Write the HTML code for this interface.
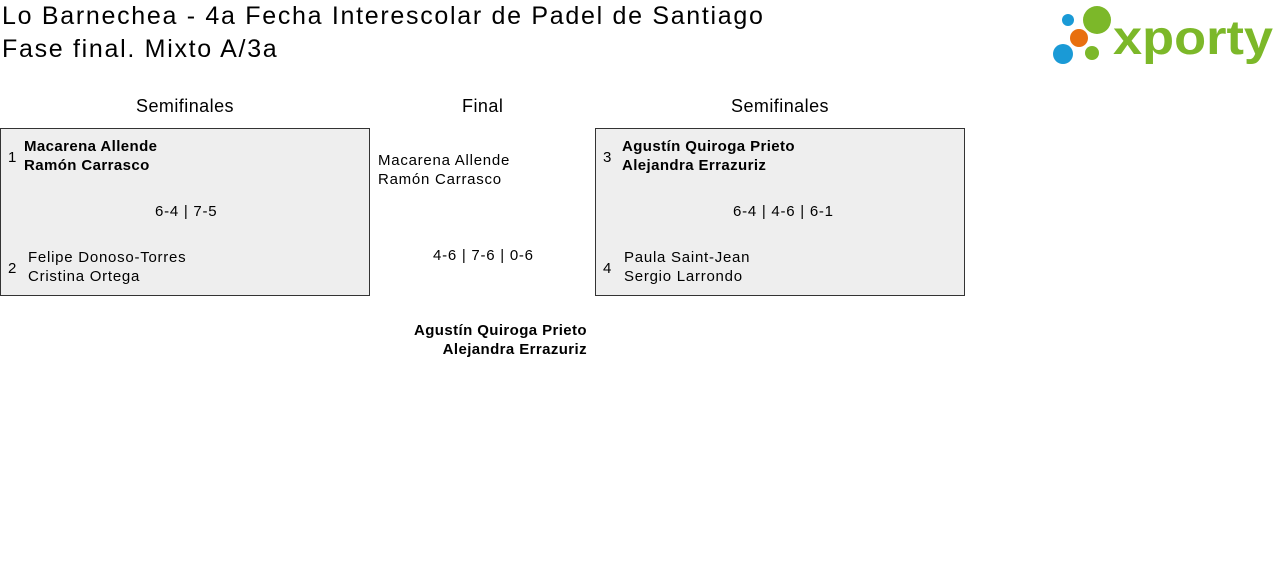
<!DOCTYPE html>
<html><head><meta charset="utf-8"><style>
body{margin:0;width:1280px;height:580px;background:#fff;font-family:"Liberation Sans",sans-serif;color:#000;position:relative;overflow:hidden}
.a{position:absolute;white-space:nowrap}
.t{font-size:25px;left:2px;letter-spacing:1.7px}
.h{font-size:18px;letter-spacing:0.45px}
.box{position:absolute;background:#eee;border:1px solid #333;box-sizing:border-box}
.n{font-size:15px;line-height:19px;letter-spacing:0.75px}
b{font-weight:bold;letter-spacing:0.4px}
</style></head><body>
<div class="a t" style="top:2px">Lo Barnechea - 4a Fecha Interescolar de Padel de Santiago</div>
<div class="a t" style="top:35px">Fase final. Mixto A/3a</div>
<svg class="a" style="left:1050px;top:4px" width="226" height="62">
<circle cx="18" cy="16" r="6" fill="#1a9ad6"/>
<circle cx="47" cy="16" r="14" fill="#7cb829"/>
<circle cx="29" cy="34" r="9" fill="#e8700f"/>
<circle cx="13" cy="50" r="10" fill="#1a9ad6"/>
<circle cx="42" cy="49" r="7" fill="#7cb829"/>
<text x="63" y="50" font-family="Liberation Sans" font-weight="bold" font-size="48" fill="#7cb829" textLength="160" lengthAdjust="spacingAndGlyphs">xporty</text>
</svg>
<div class="a h" style="left:136px;top:96px">Semifinales</div>
<div class="a h" style="left:462px;top:96px">Final</div>
<div class="a h" style="left:731px;top:96px">Semifinales</div>
<div class="box" style="left:0;top:128px;width:370px;height:168px"></div>
<div class="box" style="left:595px;top:128px;width:370px;height:168px"></div>
<div class="a n" style="left:8px;top:148px">1</div>
<div class="a n" style="left:24px;top:137px"><b>Macarena Allende<br>Ramón Carrasco</b></div>
<div class="a n" style="left:155px;top:202px">6-4 | 7-5</div>
<div class="a n" style="left:8px;top:259px">2</div>
<div class="a n" style="left:28px;top:248px">Felipe Donoso-Torres<br>Cristina Ortega</div>
<div class="a n" style="left:603px;top:148px">3</div>
<div class="a n" style="left:622px;top:137px"><b>Agustín Quiroga Prieto<br>Alejandra Errazuriz</b></div>
<div class="a n" style="left:733px;top:202px">6-4 | 4-6 | 6-1</div>
<div class="a n" style="left:603px;top:259px">4</div>
<div class="a n" style="left:624px;top:248px">Paula Saint-Jean<br>Sergio Larrondo</div>
<div class="a n" style="left:378px;top:151px">Macarena Allende<br>Ramón Carrasco</div>
<div class="a n" style="left:433px;top:246px">4-6 | 7-6 | 0-6</div>
<div class="a n" style="right:693px;top:321px;text-align:right"><b>Agustín Quiroga Prieto<br>Alejandra Errazuriz</b></div>
</body></html>
